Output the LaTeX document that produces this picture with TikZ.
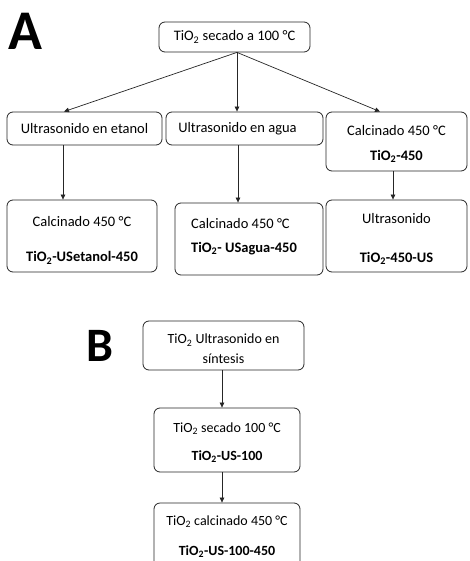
\documentclass[tikz,border=0pt]{standalone}
\usepackage{fontspec}
\setmainfont{Carlito}
\usetikzlibrary{arrows.meta}
\tikzset{
  box/.style={draw=black!85, line width=0.8pt, rounded corners=6pt, inner sep=0pt, align=center, font=\fontsize{14.5}{17}\selectfont},
  boxb/.style={box, font=\fontsize{14}{16.5}\selectfont},
  arr/.style={draw=black!85, line width=0.7pt, -{Triangle[length=5pt,width=4.5pt]}},
  biglabel/.style={font=\fontsize{56}{60}\selectfont\bfseries, inner sep=0pt}
}
\newcommand{\tio}{TiO\textsubscript{2}}
\newcommand{\lowr}[1]{\rule[-#1]{0pt}{#1}}
\newcommand{\highr}[1]{\rule{0pt}{#1}}
\begin{document}
\begin{tikzpicture}[x=1pt,y=-1pt]
\useasboundingbox (0,0) rectangle (469,561);
\clip (0,0) rectangle (469,561);
\fill[white] (0,0) rectangle (469,561);
% Part A
\node[biglabel] (lA) at (25,31) {A};
\node[box, minimum width=151, minimum height=30] (top) at (234.5,37) {\tio{} secado a 100 °C};
\node[box, minimum width=155, minimum height=33] (r1) at (84.5,128.5) {Ultrasonido en etanol};
\node[box, minimum width=157, minimum height=33] (r2) at (244.5,128.5) {Ultrasonido en agua\hspace{14pt}};
\node[box, minimum width=141, minimum height=59] (r3) at (396.5,141.5) {\highr{14.5pt}Calcinado 450 °C\\[8pt]\textbf{\tio-450}};
\node[box, minimum width=150, minimum height=72] (c1) at (82,236) {\highr{19pt}Calcinado 450 °C\\[18pt]\textbf{\tio-USetanol-450}};
\node[box, minimum width=148, minimum height=72, align=left] (c2) at (249,239) {Calcinado 450 °C\\[7pt]\textbf{\tio- USagua-450}\hspace{10pt}\lowr{8pt}};
\node[box, minimum width=141, minimum height=72] (c3) at (396.5,236) {\highr{16.5pt}Ultrasonido\\[22pt]\textbf{\tio-450-US}};
\draw[arr] ([xshift=2.5pt]top.south) -- ([xshift=-20.5pt]r1.north);
\draw[arr] ([xshift=2.5pt]top.south) -- ([xshift=-7.5pt]r2.north);
\draw[arr] ([xshift=2.5pt]top.south) -- ([xshift=-16.5pt]r3.north);
\draw[arr] ([xshift=-21.5pt]r1.south) -- ([xshift=-19pt]c1.north);
\draw[arr] ([xshift=-6.5pt]r2.south) -- ([xshift=-11pt]c2.north);
\draw[arr] ([xshift=-3.5pt]r3.south) -- ([xshift=-3.5pt]c3.north);
% Part B
\node[biglabel, font=\fontsize{48}{52}\selectfont\bfseries] (lB) at (100,346) {B};
\node[boxb, minimum width=161, minimum height=49] (b1) at (223.5,345.5) {\highr{17pt}\tio{} Ultrasonido en\\[3.5pt]síntesis};
\node[boxb, minimum width=146, minimum height=64] (b2) at (227,440) {\highr{15.5pt}\tio{} secado 100 °C\\[11.5pt]\textbf{\tio-US-100}};
\node[boxb, minimum width=146, minimum height=64] (b3) at (227,535) {\highr{13.5pt}\tio{} calcinado 450 °C\\[13.5pt]\textbf{\tio-US-100-450}};
\draw[arr] ([xshift=-1.5pt]b1.south) -- ([xshift=-5pt]b2.north);
\draw[arr] ([xshift=-5pt]b2.south) -- ([xshift=-5pt]b3.north);
\end{tikzpicture}
\end{document}
